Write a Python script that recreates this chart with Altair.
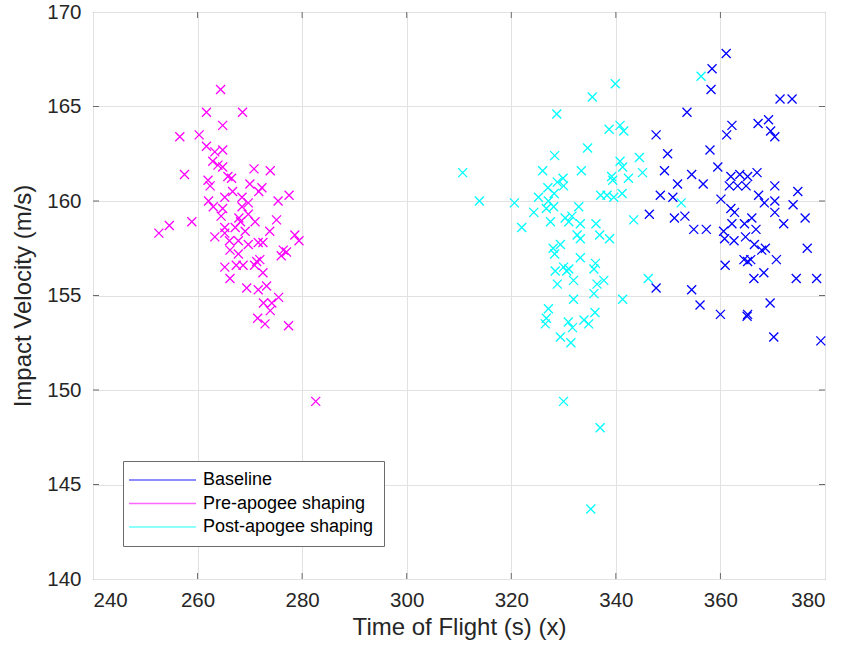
import altair as alt
import pandas as pd

# Monte Carlo results: time of flight (s) and impact velocity (m/s) per trajectory
baseline_tof = [361.1, 358.4, 358.2, 371.4, 373.7, 353.6, 362.2, 361.2, 367.2, 369.2,
                369.6, 370.4, 347.7, 349.9, 358.0, 349.3, 359.5, 354.5, 351.8, 356.7,
                362.0, 363.7, 365.2, 367.0, 361.7, 363.3, 364.9, 370.4, 374.8, 348.5,
                350.9, 360.1, 367.3, 368.4, 370.4, 373.9, 346.4, 351.2, 353.2, 362.0,
                362.7, 366.0, 370.4, 372.1, 376.2, 354.9, 357.3, 362.2, 364.6, 360.6,
                366.8, 360.8, 362.6, 364.8, 366.5, 367.9, 368.6, 376.6, 370.7, 360.9,
                364.5, 365.8, 365.2, 368.3, 366.4, 374.5, 378.4, 347.7, 354.5, 356.1,
                360.0, 365.2, 365.1, 369.5, 370.2, 379.2]
baseline_vel = [167.8, 167.0, 165.9, 165.4, 165.4, 164.7, 164.0, 163.5, 164.1, 164.3,
                163.7, 163.4, 163.5, 162.5, 162.7, 161.6, 161.8, 161.4, 160.9, 160.9,
                161.3, 161.4, 161.3, 161.5, 160.8, 160.8, 160.8, 160.8, 160.5, 160.3,
                160.2, 160.1, 160.3, 159.9, 160.0, 159.8, 159.3, 159.1, 159.2, 159.6,
                159.4, 159.1, 159.4, 158.8, 159.1, 158.5, 158.5, 158.8, 158.8, 158.4,
                158.5, 158.0, 157.9, 158.1, 157.7, 157.4, 157.5, 157.5, 156.9, 156.6,
                156.9, 156.9, 156.8, 156.2, 155.9, 155.9, 155.9, 155.4, 155.3, 154.5,
                154.0, 154.0, 153.9, 154.6, 152.8, 152.6]

pre_tof = [264.4, 261.7, 268.6, 264.8, 256.6, 260.3, 261.7, 263.3, 264.8, 262.9,
           263.9, 264.8, 257.5, 270.8, 273.9, 262.0, 265.8, 266.5, 262.4, 270.0,
           272.3, 271.7, 266.7, 265.2, 262.1, 263.0, 268.5, 269.7, 268.5, 264.8,
           275.4, 277.5, 264.5, 258.9, 254.6, 252.6, 271.0, 275.1, 268.2, 267.2,
           269.1, 265.2, 273.8, 278.6, 279.4, 266.1, 267.8, 269.7, 271.6, 272.5,
           266.2, 267.8, 276.4, 277.0, 276.0, 271.3, 271.9, 265.2, 267.4, 268.7,
           270.9, 272.5, 266.2, 269.4, 271.6, 273.2, 272.6, 274.2, 275.5, 273.9,
           271.5, 272.9, 277.4, 282.6, 263.3, 267.9, 265.2, 269.7]
pre_vel = [165.9, 164.7, 164.7, 164.0, 163.4, 163.5, 162.9, 162.6, 162.7, 162.1,
           161.9, 161.8, 161.4, 161.7, 161.6, 161.1, 161.3, 161.2, 160.8, 160.9,
           160.7, 160.5, 160.5, 160.2, 160.0, 159.7, 160.2, 159.9, 159.7, 159.6,
           160.0, 160.3, 159.2, 158.9, 158.7, 158.3, 158.9, 159.0, 158.9, 158.6,
           158.4, 158.3, 158.4, 158.2, 157.9, 157.9, 157.9, 157.7, 157.8, 157.8,
           157.4, 157.2, 157.4, 157.3, 157.1, 156.8, 156.9, 156.5, 156.6, 156.6,
           156.6, 156.2, 155.9, 155.4, 155.3, 155.5, 154.6, 154.6, 154.9, 154.2,
           153.8, 153.5, 153.4, 149.4, 158.1, 159.1, 158.6, 159.3]

post_tof = [339.9, 335.5, 328.7, 338.7, 340.8, 341.5, 334.6, 328.3, 310.7, 326.0,
            333.4, 340.8, 344.5, 341.3, 345.1, 339.2, 339.4, 342.4, 329.9, 328.8,
            330.0, 327.0, 328.2, 325.2, 313.9, 320.6, 327.1, 337.1, 338.3, 339.6,
            341.2, 324.3, 326.7, 328.1, 332.9, 327.5, 330.3, 331.6, 331.0, 333.2,
            343.4, 322.0, 336.2, 336.9, 338.8, 332.6, 333.2, 329.4, 328.0, 328.3,
            333.2, 336.1, 328.4, 330.0, 331.0, 331.9, 328.8, 335.8, 337.7, 336.4,
            331.9, 335.8, 341.3, 327.1, 326.7, 326.5, 330.9, 331.7, 333.9, 334.8,
            336.0, 329.4, 331.4, 330.6, 330.0, 337.0, 335.2, 356.3, 352.5, 346.2]
post_vel = [166.2, 165.5, 164.6, 163.8, 164.0, 163.7, 162.8, 162.4, 161.5, 161.6,
            161.6, 162.1, 162.3, 161.8, 161.5, 161.3, 161.1, 161.2, 161.2, 161.0,
            160.8, 160.7, 160.4, 160.2, 160.0, 159.9, 160.0, 160.3, 160.3, 160.2,
            160.4, 159.4, 159.6, 159.7, 159.7, 158.9, 159.1, 159.2, 158.9, 158.8,
            159.0, 158.6, 158.8, 158.2, 158.0, 158.2, 158.0, 157.7, 157.5, 157.2,
            157.0, 156.7, 156.3, 156.5, 156.4, 155.8, 155.6, 156.4, 155.8, 155.6,
            154.8, 155.1, 154.8, 154.3, 153.8, 153.5, 153.6, 153.3, 153.7, 153.5,
            154.1, 152.8, 152.5, 156.3, 149.4, 148.0, 143.7, 166.6, 159.9, 155.9]

series_names = ["Baseline", "Pre-apogee shaping", "Post-apogee shaping"]
series_colors = ["#0000ff", "#ff00ff", "#00ffff"]

x_ticks = [240, 260, 280, 300, 320, 340, 360, 380]
y_ticks = [140, 145, 150, 155, 160, 165, 170]

rows = []
for name, xs, ys in zip(series_names,
                        [baseline_tof, pre_tof, post_tof],
                        [baseline_vel, pre_vel, post_vel]):
    rows += [{"series": name, "tof": x, "vel": y} for x, y in zip(xs, ys)]
df = pd.DataFrame(rows)

W, H = 732, 567
FONT = "Liberation Sans"
TEXT = "#262626"
FRAME = "#6b6b6b"
X_MARKER = "M-1,-1L1,1M-1,1L1,-1"

x_scale = alt.Scale(domain=[240, 380], nice=False, zero=False)
y_scale = alt.Scale(domain=[140, 170], nice=False, zero=False)
x_title = "Time of Flight (s) (x)"
y_title = "Impact Velocity (m/s)"
x_axis = alt.Axis(values=x_ticks, labelPadding=11, titlePadding=5)
y_axis = alt.Axis(values=y_ticks, labelPadding=12, titlePadding=11)
x_enc = alt.X("tof:Q", scale=x_scale, title=x_title, axis=x_axis)
y_enc = alt.Y("vel:Q", scale=y_scale, title=y_title, axis=y_axis)

points = alt.Chart(df).mark_point(
    shape=X_MARKER, filled=False, size=81, strokeWidth=1.3, opacity=1
).encode(
    x=x_enc,
    y=y_enc,
    color=alt.Color(
        "series:N",
        scale=alt.Scale(domain=series_names, range=series_colors),
        legend=alt.Legend(
            title=None, orient="none", legendX=30, legendY=449,
            symbolType="M-13,0L54,0", symbolSize=4, symbolStrokeWidth=1.5,
            symbolOpacity=0.6, symbolFillColor="transparent",
            labelFont=FONT, labelFontSize=18, labelColor="#000000",
            labelLimit=400, labelOffset=52, rowPadding=5.5, padding=10,
            fillColor="#ffffff", strokeColor=FRAME, cornerRadius=0,
        ),
    ),
)

# inward tick marks on all four sides of the box
xt = pd.DataFrame({"tof": x_ticks[1:-1]})
yt = pd.DataFrame({"vel": y_ticks[1:-1]})
tick_style = dict(color=FRAME, strokeWidth=1)
bottom_ticks = alt.Chart(xt).mark_rule(**tick_style).encode(
    x=x_enc, y=alt.value(H), y2=alt.value(H - 6))
top_ticks = alt.Chart(xt).mark_rule(**tick_style).encode(
    x=x_enc, y=alt.value(0), y2=alt.value(6))
left_ticks = alt.Chart(yt).mark_rule(**tick_style).encode(
    y=y_enc, x=alt.value(0), x2=alt.value(6))
right_ticks = alt.Chart(yt).mark_rule(**tick_style).encode(
    y=y_enc, x=alt.value(W), x2=alt.value(W - 6))

chart = alt.layer(
    points, bottom_ticks, top_ticks, left_ticks, right_ticks
).properties(
    width=W, height=H,
    autosize=alt.AutoSizeParams(type="none"),
    padding={"left": 93, "top": 12, "right": 21, "bottom": 70},
    background="#ffffff",
).configure_view(
    stroke=FRAME, strokeWidth=1
).configure_axis(
    domain=False, ticks=False,
    grid=True, gridColor="#e2e2e2", gridWidth=1,
    labelFont=FONT, labelFontSize=20.5, labelColor=TEXT,
    titleFont=FONT, titleFontSize=24, titleFontWeight="normal", titleColor=TEXT,
)

chart.save("out.html", embed_options={"renderer": "svg", "actions": False})
